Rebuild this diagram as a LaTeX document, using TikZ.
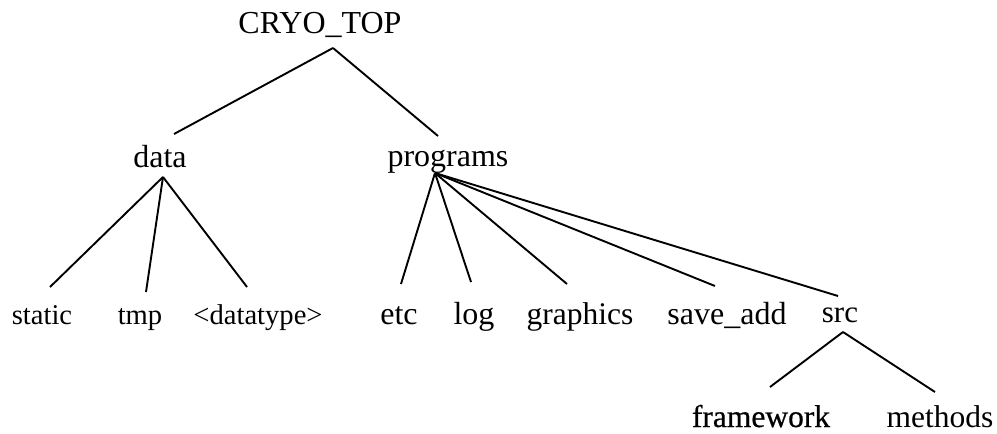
\documentclass[tikz,border=0pt]{standalone}
\usepackage{fontspec}
\setmainfont{Liberation Serif}
\newfontfamily\fwfont[FakeBold=0.6]{Liberation Serif}
\begin{document}
\begin{tikzpicture}[x=1pt,y=-1pt,
  lbl/.style={anchor=base,inner sep=0pt,font=\fontsize{32}{38}\selectfont},
  small/.style={font=\fontsize{28.6}{34}\selectfont},
  edge/.style={line width=1.9pt}]
\useasboundingbox[fill=white] (0,0) rectangle (997,434);
% labels
\node[lbl] (top) at (320,33) {CRYO\_TOP};
\node[lbl] (data) at (160,167) {data};
\node[lbl] (prog) at (448,166) {programs};
\node[lbl,small] (static) at (42,324) {static};
\node[lbl,small] (tmp) at (140,324) {tmp};
\node[lbl,small] (dtype) at (258,324) {<datatype>};
\node[lbl] (etc) at (399,324) {etc};
\node[lbl] (log) at (474,324) {log};
\node[lbl,font=\fontsize{31.5}{38}\selectfont] (graph) at (580,324) {graphics};
\node[lbl] (save) at (727,324) {save\_add};
\node[lbl,font=\fontsize{31}{38}\selectfont] (src) at (840,322) {src};
\node[lbl,font=\fontsize{31.5}{38}\fwfont] (frame) at (761,427) {framework};
\node[lbl,font=\fontsize{31.5}{38}\selectfont] (meth) at (940,427) {methods};
% connector end points
\coordinate (topB) at (333,48);
\coordinate (dataT) at (174,134);
\coordinate (progT) at (438,136);
\coordinate (dataB) at (163,177);
\coordinate (staticT) at (50,287);
\coordinate (tmpT) at (146,292);
\coordinate (dtypeT) at (247,287);
\coordinate (progB) at (435,173);
\coordinate (etcT) at (401,284);
\coordinate (logT) at (471,282);
\coordinate (graphT) at (567,284);
\coordinate (saveT) at (715,286);
\coordinate (srcT) at (838,296);
\coordinate (srcB) at (843,332);
\coordinate (frameT) at (770,387);
\coordinate (methT) at (935,392);
% connectors
\draw[edge] (topB) -- (dataT);
\draw[edge] (topB) -- (progT);
\draw[edge] (dataB) -- (staticT);
\draw[edge] (dataB) -- (tmpT);
\draw[edge] (dataB) -- (dtypeT);
\draw[edge] (progB) -- (etcT);
\draw[edge] (progB) -- (logT);
\draw[edge] (progB) -- (graphT);
\draw[edge] (progB) -- (saveT);
\draw[edge] (progB) -- (srcT);
\draw[edge] (srcB) -- (frameT);
\draw[edge] (srcB) -- (methT);
\end{tikzpicture}
\end{document}
